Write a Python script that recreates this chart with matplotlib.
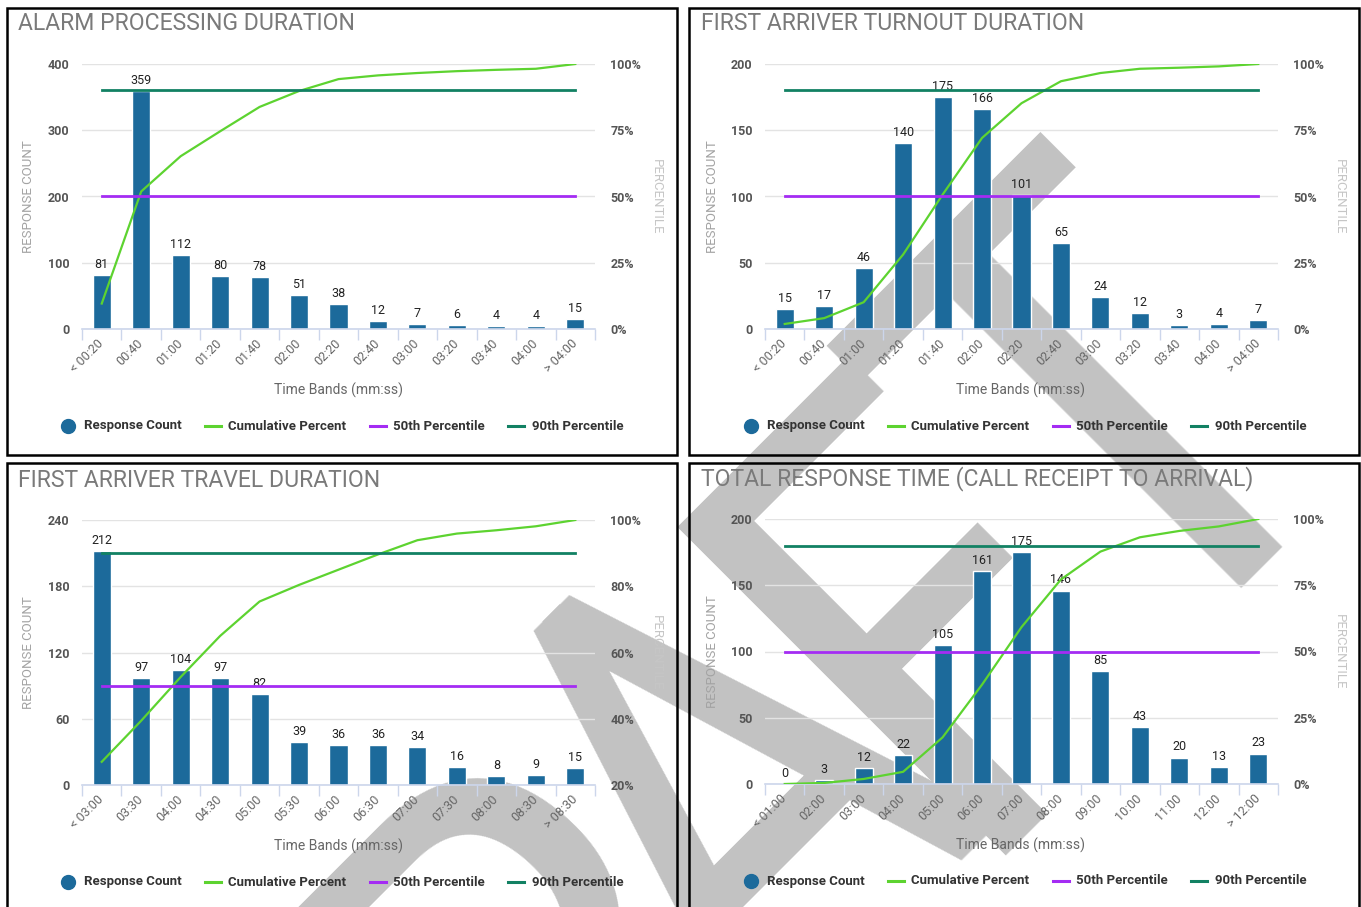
import matplotlib
matplotlib.use("Agg")
import matplotlib.pyplot as plt
from matplotlib.patches import Rectangle
from matplotlib.lines import Line2D

W, H = 1361, 907
plt.rcParams['font.family'] = ['Roboto', 'DejaVu Sans']

BAR = '#1c6a9b'
CUM = '#5dd330'
P50 = '#a42cf3'
P90 = '#128163'
WM_FONT = ['Roboto Condensed', 'Archivo Narrow', 'Barlow Semi Condensed',
           'Liberation Sans']

# ---- data ----
alarm_labels = ['< 00:20', '00:40', '01:00', '01:20', '01:40', '02:00', '02:20',
                '02:40', '03:00', '03:20', '03:40', '04:00', '> 04:00']
alarm_counts = [81, 359, 112, 80, 78, 51, 38, 12, 7, 6, 4, 4, 15]
alarm_cum = [9.6, 51.9, 65.2, 74.6, 83.8, 89.8, 94.3, 95.7, 96.6, 97.3, 97.8, 98.2, 100.0]

turnout_labels = ['< 00:20', '00:40', '01:00', '01:20', '01:40', '02:00', '02:20',
                  '02:40', '03:00', '03:20', '03:40', '04:00', '> 04:00']
turnout_counts = [15, 17, 46, 140, 175, 166, 101, 65, 24, 12, 3, 4, 7]
turnout_cum = [1.9, 4.1, 10.1, 28.1, 50.7, 72.1, 85.2, 93.5, 96.6, 98.2, 98.6, 99.1, 100.0]

travel_labels = ['< 03:00', '03:30', '04:00', '04:30', '05:00', '05:30', '06:00',
                 '06:30', '07:00', '07:30', '08:00', '08:30', '> 08:30']
travel_counts = [212, 97, 104, 97, 82, 39, 36, 36, 34, 16, 8, 9, 15]
travel_cum = [27.0, 39.4, 52.6, 65.0, 75.4, 80.4, 85.0, 89.6, 93.9, 95.9, 96.9, 98.1, 100.0]

total_labels = ['< 01:00', '02:00', '03:00', '04:00', '05:00', '06:00', '07:00',
                '08:00', '09:00', '10:00', '11:00', '12:00', '> 12:00']
total_counts = [0, 3, 12, 22, 105, 161, 175, 146, 85, 43, 20, 13, 23]
total_cum = [0.0, 0.4, 1.9, 4.6, 17.6, 37.5, 59.2, 77.2, 87.7, 93.1, 95.5, 97.2, 100.0]

percentiles = [50, 90]
legend_names = ['Response Count', 'Cumulative Percent', '50th Percentile', '90th Percentile']
watermark = 'DRAFT'


def fx(x):
    return x / W


def fy(y):
    return 1 - y / H


def panel(fig, ox, oy, title, labels, counts, cum, ymax, ystep, pmin, pstep):
    n = len(counts)
    ax = fig.add_axes([fx(82 + ox), fy(329 + oy), 513 / W, 265 / H])
    ax.patch.set_visible(False)
    xs = list(range(n))
    ax.bar(xs, counts, width=0.46, color=BAR, edgecolor='white', linewidth=1, zorder=2)
    for i, c in enumerate(counts):
        ax.annotate(str(c), (i, c), xytext=(0, 3), textcoords='offset points',
                    ha='center', va='bottom', fontsize=9, color='#222222', zorder=3)
    ax.set_xlim(-0.5, n - 0.5)
    ax.set_ylim(0, ymax)
    ax.set_yticks(range(0, ymax + 1, ystep))
    ax.yaxis.grid(True, color='#e3e3e3', lw=1)
    ax.set_axisbelow(True)
    for s in ['top', 'right', 'left']:
        ax.spines[s].set_visible(False)
    ax.spines['bottom'].set_color('#ccd6eb')
    ax.spines['bottom'].set_linewidth(1.2)
    ax.tick_params(axis='y', length=0, pad=9, labelsize=9, labelcolor='#555555')
    for lab in ax.get_yticklabels():
        lab.set_fontweight('bold')
    ax.set_xticks(xs)
    ax.set_xticklabels(labels, rotation=45, ha='right', va='center',
                       rotation_mode='anchor', fontsize=9, color='#666666')
    ax.set_xticks([i - 0.5 for i in range(n + 1)], minor=True)
    ax.tick_params(axis='x', which='major', length=0, pad=9)
    ax.tick_params(axis='x', which='minor', length=8, width=1, color='#ccd6eb')

    ax2 = ax.twinx()
    ax2.set_ylim(pmin, 100)
    ax2.set_yticks(range(pmin, 101, pstep))
    ax2.set_yticklabels([f'{v}%' for v in range(pmin, 101, pstep)])
    for s in ax2.spines.values():
        s.set_visible(False)
    ax2.tick_params(axis='y', length=0, pad=11, labelsize=9, labelcolor='#555555')
    for lab in ax2.get_yticklabels():
        lab.set_fontweight('bold')
    ax2.plot(xs, cum, color=CUM, lw=1.6, zorder=3)
    ax2.plot([0, n - 1], [percentiles[0]] * 2, color=P50, lw=2, zorder=4)
    ax2.plot([0, n - 1], [percentiles[1]] * 2, color=P90, lw=2, zorder=4)

    # panel texts
    fig.text(fx(18 + ox), fy(24 + oy), title, fontsize=16.6, color='#7a7a7a',
             ha='left', va='center')
    fig.text(fx(29 + ox), fy(197 + oy), 'RESPONSE COUNT', rotation=90, fontsize=9.5,
             color='#a3a3a3', ha='center', va='center')
    fig.text(fx(656 + ox), fy(197 + oy), 'PERCENTILE', rotation=270, fontsize=9.5,
             color='#c6c6c6', ha='center', va='center')
    fig.text(fx(338 + ox), fy(390 + oy), 'Time Bands (mm:ss)', fontsize=10,
             color='#666666', ha='center', va='center')

    # legend
    ly = fy(426 + oy)
    fig.add_artist(Line2D([fx(68 + ox)], [ly], marker='o', markersize=10, color=BAR,
                          transform=fig.transFigure))
    for x0, col in [(205, CUM), (370, P50), (508, P90)]:
        fig.add_artist(Line2D([fx(x0 + ox), fx(x0 + 16 + ox)], [ly, ly], lw=2.2,
                              color=col, transform=fig.transFigure))
    for x0, name in zip([84, 228, 393, 532], legend_names):
        fig.text(fx(x0 + ox), ly, name, fontsize=9.5, fontweight='bold',
                 color='#333333', ha='left', va='center')


fig = plt.figure(figsize=(W / 100, H / 100), dpi=100)
fig.patch.set_facecolor('white')

# watermark behind the charts: letters set along a 45 degree baseline
# (baseline centre of the "A" and letter pitch in pixels)
ax_a, ay_a, pitch = 877, 933, 268
d = pitch * 0.7071
for k, ch in enumerate(watermark):
    x = ax_a + (k - 2) * d
    y = ay_a - (k - 2) * d
    fig.text(fx(x), fy(y), ch, rotation=45, rotation_mode='anchor', ha='center',
             va='baseline', fontsize=471, family=WM_FONT,
             color='#c2c2c2', zorder=-5)

panel(fig, 0, 0, 'ALARM PROCESSING DURATION', alarm_labels, alarm_counts, alarm_cum,
      400, 100, 0, 25)
panel(fig, 683, 0, 'FIRST ARRIVER TURNOUT DURATION', turnout_labels, turnout_counts,
      turnout_cum, 200, 50, 0, 25)
panel(fig, 0, 456, 'FIRST ARRIVER TRAVEL DURATION', travel_labels, travel_counts,
      travel_cum, 240, 60, 20, 20)
panel(fig, 683, 455, 'TOTAL RESPONSE TIME (CALL RECEIPT TO ARRIVAL)', total_labels,
      total_counts, total_cum, 200, 50, 0, 25)

# panel frames
for x0, y0, x1, y1 in [(7, 8, 677, 455), (689, 8, 1359, 455),
                       (7, 463, 677, 920), (689, 463, 1359, 920)]:
    fig.add_artist(Rectangle((fx(x0), fy(y1)), (x1 - x0) / W, (y1 - y0) / H,
                             transform=fig.transFigure, fill=False,
                             edgecolor='black', lw=1.8, zorder=10))

fig.savefig('out.png', dpi=100)
